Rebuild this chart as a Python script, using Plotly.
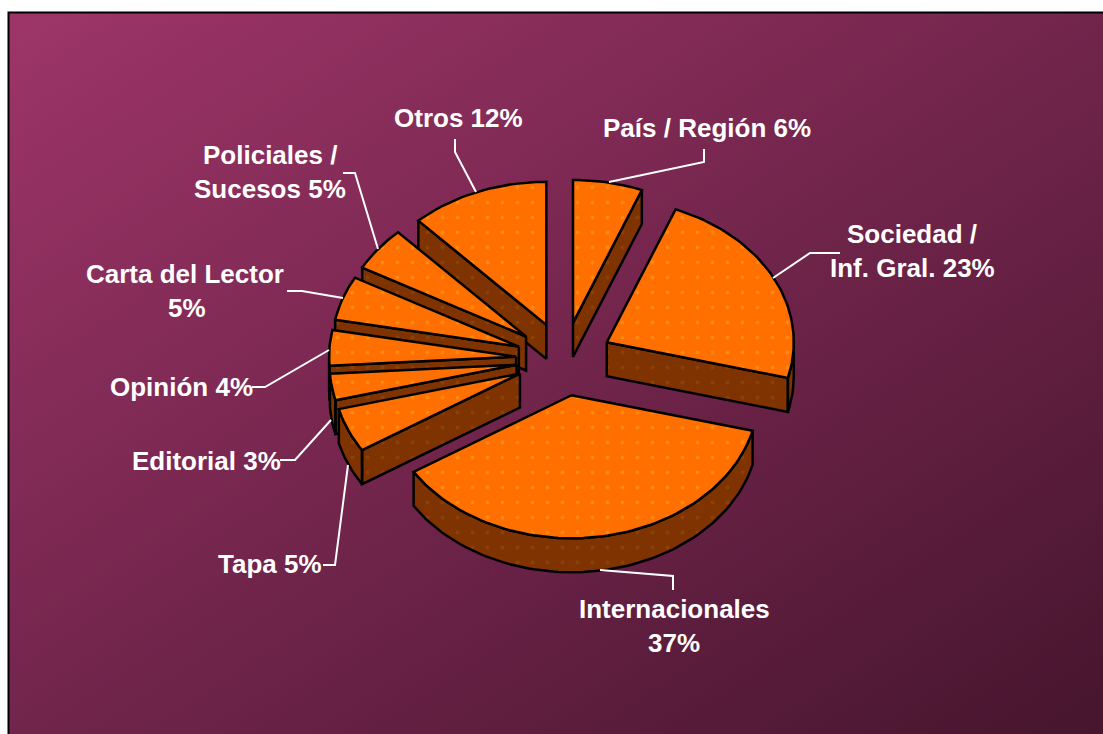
import base64
import numpy as np
import plotly.graph_objects as go

# --- data -------------------------------------------------------------
categories = ["País / Región", "Sociedad / Inf. Gral.", "Internacionales", "Tapa",
              "Editorial", "Opinión", "Carta del Lector", "Policiales / Sucesos", "Otros"]
values = [6, 23, 37, 5, 3, 4, 5, 5, 12]

# label text, one entry per printed line
label_lines = [
    ["País / Región 6%"], ["Sociedad /", "Inf. Gral. 23%"], ["Internacionales", "37%"],
    ["Tapa 5%"], ["Editorial 3%"], ["Opinión 4%"], ["Carta del Lector", "5%"],
    ["Policiales /", "Sucesos 5%"], ["Otros 12%"],
]

# --- layout / style ---------------------------------------------------
W, H = 1103, 734
CX, CY = 564, 359      # pie centre
RX, RY = 187, 143      # ellipse radii of the tilted pie
PULL = 48              # explosion distance
DEPTH = 34             # extrusion depth
TOP = "#ff7000"
SIDE = "#7f3300"
label_pos = [[(707, 128)], [(912, 234), (912, 268)], [(674, 609), (674, 643)],
             [(270, 564)], [(206, 461)], [(181, 387)], [(185, 274), (187, 308)],
             [(270, 155), (270, 189)], [(458, 118)]]
leaders = ["M609,182 L704,162 L704,149", "M773,278 L810,253 L840,253",
           "M600,570 L673,576 L673,590", "M348,465 L335,565 L323,565",
           "M331,420 L295,460 L280,460", "M329,350 L265,387 L252,387",
           "M343,298 L302,291 L287,291", "M378,249 L355,173 L343,173",
           "M476,192 L455,152 L455,139"]
draw_order = [8, 0, 1, 7, 6, 5, 4, 3, 2]

svg = ('<svg xmlns="http://www.w3.org/2000/svg" width="1095" height="722" preserveAspectRatio="none">'
       '<defs><linearGradient id="g" x1="0" y1="0" x2="1" y2="1">'
       '<stop offset="0" stop-color="#9e3569"/><stop offset="1" stop-color="#46152e"/>'
       '</linearGradient></defs><rect width="1095" height="722" fill="url(#g)"/></svg>')
bg_uri = "data:image/svg+xml;base64," + base64.b64encode(svg.encode()).decode()

# --- wedges computed from the values ----------------------------------
fracs = np.array(values, dtype=float) / sum(values)
ends = np.cumsum(fracs) * 2 * np.pi
starts = ends - fracs * 2 * np.pi


def pattern(fg):
    return dict(shape=".", fgcolor=fg, size=15, solidity=0.05, fillmode="overlay")


fig = go.Figure()
for i in draw_order:
    a0, a1 = starts[i], ends[i]
    mid = (a0 + a1) / 2
    ax = CX + PULL * np.sin(mid)
    ay = CY - PULL * RY / RX * np.cos(mid)
    t = np.linspace(a0, a1, max(int(np.degrees(a1 - a0) / 1.5), 3))
    ex = ax + RX * np.sin(t)
    ey = ay - RY * np.cos(t)

    # visible side walls only: the cut faces turned towards the viewer and the front rim
    wx, wy = [], []
    r0, r1 = max(a0, np.pi / 2), min(a1, 3 * np.pi / 2)
    if r1 > r0:
        rt = np.linspace(r0, r1, max(int(np.degrees(r1 - r0) / 1.5), 3))
        rx = ax + RX * np.sin(rt)
        ry = ay - RY * np.cos(rt)
        wx += list(rx) + list(rx[::-1]) + [rx[0], None]
        wy += list(ry) + list(ry[::-1] + DEPTH) + [ry[0], None]
    if np.sin(a0) < -1e-9:
        wx += [ax, ex[0], ex[0], ax, ax, None]
        wy += [ay, ey[0], ey[0] + DEPTH, ay + DEPTH, ay, None]
    if np.sin(a1) > 1e-9:
        wx += [ax, ex[-1], ex[-1], ax, ax, None]
        wy += [ay, ey[-1], ey[-1] + DEPTH, ay + DEPTH, ay, None]
    if wx:
        fig.add_trace(go.Scatter(x=wx, y=wy, mode="lines", fill="toself", fillcolor=SIDE,
                                 fillpattern=pattern("#93500f"),
                                 line=dict(color="black", width=2.5), hoverinfo="skip",
                                 showlegend=False))
    # top face
    fig.add_trace(go.Scatter(x=[ax] + list(ex) + [ax], y=[ay] + list(ey) + [ay],
                             mode="lines", fill="toself", fillcolor=TOP,
                             fillpattern=pattern("#ffa01e"),
                             line=dict(color="black", width=2.5), name=categories[i],
                             text=f"{categories[i]} {values[i]}%", hoverinfo="text",
                             showlegend=False))

annotations = []
for lines, pos in zip(label_lines, label_pos):
    for txt, (x, y) in zip(lines, pos):
        annotations.append(dict(x=x, y=y, xref="x", yref="y", text=f"<b>{txt}</b>",
                                showarrow=False, xanchor="center", yanchor="middle",
                                font=dict(family="Liberation Sans", size=26, color="white")))

shapes = [dict(type="path", path=p, xref="x", yref="y", layer="above",
               line=dict(color="white", width=2)) for p in leaders]
shapes.append(dict(type="path", path=f"M8.5,{H} L8.5,12.5 L{W},12.5", xref="x", yref="y",
                   line=dict(color="black", width=2), layer="above"))

fig.update_layout(
    width=W, height=H, margin=dict(l=0, r=0, t=0, b=0),
    paper_bgcolor="white", plot_bgcolor="rgba(0,0,0,0)",
    xaxis=dict(range=[0, W], visible=False, fixedrange=True),
    yaxis=dict(range=[H, 0], visible=False, fixedrange=True),
    images=[dict(source=bg_uri, xref="x", yref="y", x=8, y=12, sizex=W - 8, sizey=H - 12,
                 sizing="stretch", xanchor="left", yanchor="top", layer="below")],
    annotations=annotations, shapes=shapes,
)
fig.write_html("out.html", config={"displayModeBar": False},
               post_script="document.body.style.margin='0';document.body.style.overflow='hidden';")
